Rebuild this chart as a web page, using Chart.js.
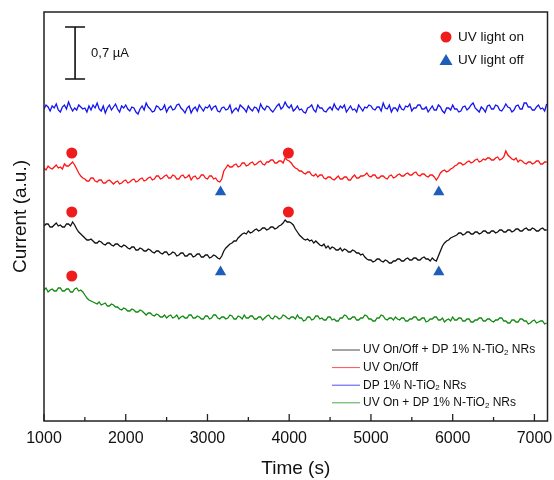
<!DOCTYPE html>
<html><head><meta charset="utf-8">
<script src="https://cdn.jsdelivr.net/npm/chart.js@4/dist/chart.umd.min.js"></script>
<style>html,body{margin:0;padding:0;background:#fff}canvas{display:block}</style>
</head><body>
<canvas id="c" width="554" height="480"></canvas>
<script>
// ---- data (current in arbitrary units, time in s) ----
const times = [
1000,1025,1050,1075,1100,1125,1150,1175,1200,1225,1250,1275,1300,1325,1350,1375,1400,1425,1450,1475,
1500,1525,1550,1575,1600,1625,1650,1675,1700,1725,1750,1775,1800,1825,1850,1875,1900,1925,1950,1975,
2000,2025,2050,2075,2100,2125,2150,2175,2200,2225,2250,2275,2300,2325,2350,2375,2400,2425,2450,2475,
2500,2525,2550,2575,2600,2625,2650,2675,2700,2725,2750,2775,2800,2825,2850,2875,2900,2925,2950,2975,
3000,3025,3050,3075,3100,3125,3150,3175,3200,3225,3250,3275,3300,3325,3350,3375,3400,3425,3450,3475,
3500,3525,3550,3575,3600,3625,3650,3675,3700,3725,3750,3775,3800,3825,3850,3875,3900,3925,3950,3975,
4000,4025,4050,4075,4100,4125,4150,4175,4200,4225,4250,4275,4300,4325,4350,4375,4400,4425,4450,4475,
4500,4525,4550,4575,4600,4625,4650,4675,4700,4725,4750,4775,4800,4825,4850,4875,4900,4925,4950,4975,
5000,5025,5050,5075,5100,5125,5150,5175,5200,5225,5250,5275,5300,5325,5350,5375,5400,5425,5450,5475,
5500,5525,5550,5575,5600,5625,5650,5675,5700,5725,5750,5775,5800,5825,5850,5875,5900,5925,5950,5975,
6000,6025,6050,6075,6100,6125,6150,6175,6200,6225,6250,6275,6300,6325,6350,6375,6400,6425,6450,6475,
6500,6525,6550,6575,6600,6625,6650,6675,6700,6725,6750,6775,6800,6825,6850,6875,6900,6925,6950,6975,
7000,7025,7050,7075,7100,7125,7150];

const blackVals = [
195,197,197,194,194,196,198,195,196,194,194,197,197,195,199,196,192,189,187,185,
183,181,181,182,180,178,178,180,179,177,176,178,178,176,175,177,177,175,174,176,
175,173,172,174,174,171,171,173,172,170,170,172,171,169,168,170,170,168,167,169,
169,166,167,169,168,165,166,168,168,165,165,167,167,164,165,167,167,164,164,166,
166,163,164,166,165,163,162,165,170,173,175,177,178,180,180,183,185,187,188,187,
190,188,189,191,192,190,191,193,193,191,192,194,194,192,193,195,196,198,201,199,
199,198,196,192,189,186,184,182,181,182,180,181,178,180,178,176,175,177,173,175,
172,174,173,171,171,173,170,172,171,169,169,171,170,168,168,166,167,164,162,161,
161,159,160,162,162,160,159,161,160,158,158,160,160,162,162,160,160,162,163,161,
161,163,163,161,161,163,164,162,162,160,163,161,160,165,170,175,178,180,181,183,
184,185,186,188,188,186,187,189,189,187,187,189,189,187,188,190,190,188,188,190,
190,188,189,191,191,189,189,191,191,189,190,192,192,190,190,192,193,191,191,193,
192,190,190,192,193,191,191];

const redVals = [
253,251,255,253,252,254,256,253,254,252,257,255,255,257,259,256,252,248,245,243,
242,240,240,243,243,240,239,241,241,238,238,240,241,239,237,239,240,237,238,240,
241,238,239,241,242,239,240,242,243,240,241,243,244,241,242,245,245,242,243,245,
246,243,243,246,245,242,242,245,246,243,244,246,241,244,245,242,243,246,246,243,
242,245,245,242,243,240,239,242,250,253,256,254,254,256,257,254,255,258,258,255,
256,258,259,256,257,259,260,257,256,259,259,261,261,258,258,260,260,258,263,261,
260,258,255,253,252,250,250,248,247,249,249,246,245,247,244,246,246,243,242,244,
244,242,241,243,245,242,242,244,244,241,241,244,246,243,243,245,245,246,248,245,
244,246,246,243,243,245,245,243,242,245,246,243,244,246,247,245,245,247,248,246,
246,248,249,246,245,247,247,245,244,246,246,244,241,244,248,250,251,249,250,252,
253,255,256,258,258,256,257,259,260,258,259,261,262,259,260,262,261,263,263,261,
261,263,264,261,262,264,270,266,264,262,261,263,259,261,260,258,257,259,259,257,
258,260,260,257,257,259,259];

const blueVals = [
312,316,314,310,315,313,317,311,309,314,316,312,319,314,310,313,311,316,314,312,
313,309,315,311,316,313,318,312,310,315,308,313,316,311,314,317,312,309,315,313,
316,312,310,314,313,309,307,312,315,311,318,314,312,309,310,315,314,311,312,316,
309,313,315,311,312,316,317,313,311,308,313,315,308,312,314,310,316,313,310,314,
313,316,311,314,315,310,309,313,314,311,312,316,308,311,313,310,316,314,312,309,
315,312,310,314,313,309,317,313,311,315,314,311,309,312,315,317,312,314,319,315,
313,316,310,312,315,311,312,309,308,313,314,316,311,309,316,313,313,310,309,312,
314,311,317,313,311,315,313,316,309,312,315,311,312,309,316,313,310,314,313,316,
315,312,311,314,314,310,318,313,312,316,309,313,313,310,316,312,311,315,314,317,
310,313,313,316,316,312,312,314,309,312,315,311,311,316,314,310,308,313,313,311,
316,312,312,309,310,314,315,311,313,316,318,313,311,309,314,312,309,315,316,312,
312,316,315,311,310,313,317,314,313,309,311,315,316,312,312,318,318,314,314,311,
311,314,316,312,313,310,317];

const greenVals = [
131,133,129,131,132,130,130,133,133,130,130,132,132,129,129,132,133,130,131,129,
126,123,121,120,119,118,117,119,116,117,118,115,115,117,116,114,114,112,111,113,
112,110,110,112,111,109,109,111,110,108,106,108,108,106,105,107,106,104,104,106,
103,105,106,103,104,106,102,104,105,103,103,106,106,103,103,105,104,102,102,105,
105,102,103,106,106,103,102,104,104,102,103,106,105,102,102,105,104,102,106,103,
103,105,105,102,102,104,104,101,103,105,106,103,102,105,104,102,103,106,105,103,
102,104,104,102,106,103,103,100,101,104,104,101,102,105,105,102,103,101,101,104,
104,101,102,100,100,103,103,106,105,102,102,104,104,101,101,103,103,106,105,102,
102,100,100,103,103,106,105,102,101,103,103,101,104,102,101,103,103,100,100,102,
102,104,104,101,101,103,103,99,100,102,102,104,104,101,101,103,99,101,102,100,
104,101,101,103,103,100,100,102,102,99,99,101,101,103,103,100,100,102,102,100,
99,101,101,103,103,100,100,98,98,101,101,99,99,102,102,100,100,97,98,100,
101,98,99,100,100,97,98];

// UV light on / off marker positions
const uvOnTimes = [1340, 3990];
const uvOffTimes = [3160, 5830];
const redOnY = [268, 268];
const redOffY = [229, 229];
const blackOnY = [209, 209];
const blackOffY = [149, 149];
const greenOnTimes = [1340];
const greenOnY = [145];

const seriesNames = ['UV On/Off + DP 1% N-TiO₂ NRs', 'UV On/Off', 'DP 1% N-TiO₂ NRs', 'UV On + DP 1% N-TiO₂ NRs'];
const markerNames = ['UV light on', 'UV light off'];
const scaleBarLabel = '0,7 µA';
const scaleBarX = 1380;
const scaleBarFrom = 342;
const scaleBarSpan = 52; // 0.7 µA in plot units

const xTickValues = [1000, 1500, 2000, 2500, 3000, 3500, 4000, 4500, 5000, 5500, 6000, 6500, 7000];
const xTickLabels = [1000, 2000, 3000, 4000, 5000, 6000, 7000];

// ---- styling ----
const FONT = "'Liberation Sans', Arial, sans-serif";
Chart.defaults.font.family = FONT;
Chart.defaults.color = '#111';

const COLORS = { black: '#111111', red: '#ff1414', blue: '#1414f0', green: '#108a10', on: '#ee1c1c', off: '#1d5fb8' };

function pts(xs, ys) { return xs.map((x, i) => ({ x: x, y: ys[i] })); }
function lineDs(label, vals, color) {
  return { type: 'line', label: label, data: pts(times, vals), borderColor: color, backgroundColor: color,
    borderWidth: 1.3, pointRadius: 0, fill: false, tension: 0, order: 2 };
}
function markDs(label, xs, ys, style, color, r) {
  return { type: 'scatter', label: label, data: pts(xs, ys), pointStyle: style, pointRadius: r,
    backgroundColor: color, borderColor: color, borderWidth: 0, showLine: false, order: 1 };
}

function drawSubText(ctx, text, x, y, size) {
  const parts = text.split('₂');
  let cx = x;
  parts.forEach((p, i) => {
    ctx.font = size + 'px ' + FONT;
    ctx.fillText(p, cx, y);
    cx += ctx.measureText(p).width;
    if (i < parts.length - 1) {
      ctx.font = Math.round(size * 0.65) + 'px ' + FONT;
      ctx.fillText('2', cx, y + 3);
      cx += ctx.measureText('2').width;
    }
  });
}

const extras = {
  id: 'extras',
  afterDraw(chart) {
    const { ctx, chartArea: a, scales: { x, y } } = chart;
    ctx.save();
    // frame
    ctx.strokeStyle = '#222';
    ctx.lineWidth = 1.5;
    ctx.strokeRect(a.left, a.top, a.right - a.left, a.bottom - a.top);
    // inward ticks on x axis
    ctx.lineWidth = 1.3;
    x.ticks.forEach(t => {
      const px = x.getPixelForValue(t.value);
      const len = xTickLabels.includes(t.value) ? 7 : 4;
      ctx.beginPath();
      ctx.moveTo(px, a.bottom);
      ctx.lineTo(px, a.bottom - len);
      ctx.stroke();
    });
    // scale bar
    const bx = x.getPixelForValue(scaleBarX);
    const by0 = y.getPixelForValue(scaleBarFrom);
    const by1 = y.getPixelForValue(scaleBarFrom + scaleBarSpan);
    ctx.strokeStyle = '#111';
    ctx.lineWidth = 1.6;
    ctx.beginPath();
    ctx.moveTo(bx, by0); ctx.lineTo(bx, by1);
    ctx.moveTo(bx - 10, by0); ctx.lineTo(bx + 10, by0);
    ctx.moveTo(bx - 10, by1); ctx.lineTo(bx + 10, by1);
    ctx.stroke();
    ctx.fillStyle = '#111';
    ctx.textBaseline = 'middle';
    ctx.textAlign = 'left';
    ctx.font = '13px ' + FONT;
    ctx.fillText(scaleBarLabel, bx + 16, (by0 + by1) / 2);
    // marker legend
    ctx.fillStyle = COLORS.on;
    ctx.beginPath(); ctx.arc(446, 37, 5.5, 0, Math.PI * 2); ctx.fill();
    ctx.fillStyle = COLORS.off;
    ctx.beginPath(); ctx.moveTo(446, 54); ctx.lineTo(452.5, 65); ctx.lineTo(439.5, 65); ctx.closePath(); ctx.fill();
    ctx.fillStyle = '#111';
    ctx.font = '13.5px ' + FONT;
    ctx.fillText(markerNames[0], 458, 37);
    ctx.fillText(markerNames[1], 458, 60);
    // line legend
    const lineColors = [COLORS.black, COLORS.red, COLORS.blue, COLORS.green];
    seriesNames.forEach((name, i) => {
      const ly = 350 + i * 17.6;
      ctx.strokeStyle = lineColors[i];
      ctx.globalAlpha = 0.75;
      ctx.lineWidth = 1;
      ctx.beginPath(); ctx.moveTo(332, ly); ctx.lineTo(360, ly); ctx.stroke();
      ctx.globalAlpha = 1;
      ctx.fillStyle = '#111';
      ctx.textBaseline = 'middle';
      drawSubText(ctx, name, 363, ly, 12);
    });
    ctx.restore();
  }
};

new Chart(document.getElementById('c'), {
  type: 'line',
  data: {
    datasets: [
      lineDs(seriesNames[2], blueVals, COLORS.blue),
      lineDs(seriesNames[1], redVals, COLORS.red),
      lineDs(seriesNames[0], blackVals, COLORS.black),
      lineDs(seriesNames[3], greenVals, COLORS.green),
      markDs('red on', uvOnTimes, redOnY, 'circle', COLORS.on, 5.5),
      markDs('red off', uvOffTimes, redOffY, 'triangle', COLORS.off, 6.5),
      markDs('black on', uvOnTimes, blackOnY, 'circle', COLORS.on, 5.5),
      markDs('black off', uvOffTimes, blackOffY, 'triangle', COLORS.off, 6.5),
      markDs('green on', greenOnTimes, greenOnY, 'circle', COLORS.on, 5.5)
    ]
  },
  options: {
    responsive: false,
    animation: false,
    layout: { padding: { top: 12, right: 5, left: 0, bottom: 0 } },
    plugins: { legend: { display: false }, tooltip: { enabled: false } },
    scales: {
      x: {
        type: 'linear', min: 1000, max: 7160,
        grid: { display: false, drawTicks: false },
        border: { display: false },
        afterBuildTicks(s) { s.ticks = xTickValues.map(v => ({ value: v })); },
        ticks: {
          autoSkip: false, maxRotation: 0, minRotation: 0, padding: 8,
          font: { size: 16 }, color: '#111',
          callback: v => xTickLabels.includes(v) ? String(v) : ''
        },
        title: { display: true, text: 'Time (s)', font: { size: 19 }, color: '#111', padding: { top: 0, bottom: 0 } },
        afterFit(s) { s.height = 59; s.paddingLeft = 0; s.paddingRight = 0; }
      },
      y: {
        min: 0, max: 409,
        grid: { display: false, drawTicks: false },
        border: { display: false },
        ticks: { display: false },
        title: { display: true, text: 'Current (a.u.)', font: { size: 19 }, color: '#111', padding: { top: 9, bottom: 0 } },
        afterFit(s) { s.width = 44; s.paddingTop = 0; s.paddingBottom = 0; }
      }
    }
  },
  plugins: [extras]
});
</script>
</body></html>
